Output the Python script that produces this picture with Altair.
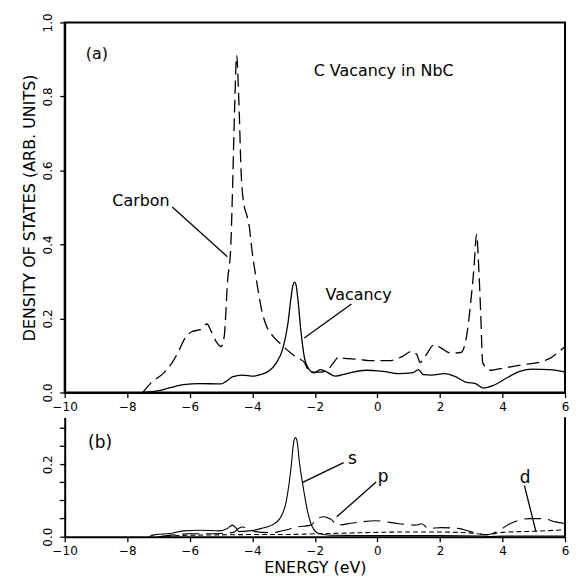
import altair as alt
import pandas as pd

FONT = "DejaVu Sans"

# ---- Panel (a): C vacancy in NbC ----
carbon_x = [-7.5, -7.24, -6.83, -6.57, -6.36, -6.15, -5.94, -5.63, -5.45, -5.31, -5.16, -5.0, -4.9,
            -4.79, -4.69, -4.64, -4.56, -4.5, -4.43, -4.35, -4.25, -4.18, -4.1, -4.01, -3.85, -3.70,
            -3.54, -3.33, -3.07, -2.76, -2.55, -2.34, -2.18, -2.0, -1.8, -1.6, -1.45, -1.3, -1.24,
            -1.09, -0.67, -0.15, 0.37, 0.79, 1.10, 1.26, 1.37, 1.52, 1.83, 2.04, 2.36, 2.67, 2.83,
            2.98, 3.09, 3.17, 3.24, 3.30, 3.37, 3.61, 4.03, 4.65, 5.28, 5.59, 5.90, 6.0]
carbon_y = [0.0, 0.026, 0.053, 0.080, 0.111, 0.147, 0.164, 0.171, 0.185, 0.164, 0.138, 0.124, 0.151,
            0.303, 0.392, 0.526, 0.786, 0.911, 0.786, 0.58, 0.50, 0.48, 0.45, 0.383, 0.294, 0.222,
            0.178, 0.151, 0.129, 0.106, 0.093, 0.082, 0.057, 0.055, 0.055, 0.060, 0.075, 0.092, 0.097,
            0.093, 0.090, 0.086, 0.086, 0.097, 0.111, 0.102, 0.081, 0.097, 0.129, 0.120, 0.106, 0.108, 0.142,
            0.240, 0.339, 0.428, 0.339, 0.222, 0.080, 0.060, 0.066, 0.075, 0.084, 0.096, 0.117, 0.124]

vac_x = [-7.5, -7.04, -6.62, -6.20, -5.68, -5.0, -4.84, -4.64, -4.32, -3.96, -3.80, -3.49, -3.23,
         -3.02, -2.86, -2.76, -2.70, -2.65, -2.60, -2.55, -2.45, -2.34, -2.18, -2.03, -1.82, -1.61,
         -1.35, -0.98, -0.36, 0.17, 0.69, 1.10, 1.16, 1.31, 1.47, 1.73, 2.15, 2.46, 2.83, 3.14, 3.38,
         3.71, 4.13, 4.55, 4.96, 5.49, 5.90, 6.0]
vac_y = [0.0, 0.004, 0.013, 0.021, 0.024, 0.023, 0.030, 0.042, 0.047, 0.044, 0.047, 0.057, 0.080,
         0.120, 0.187, 0.258, 0.290, 0.298, 0.290, 0.258, 0.169, 0.097, 0.062, 0.053, 0.062, 0.055,
         0.044, 0.051, 0.060, 0.057, 0.051, 0.053, 0.054, 0.062, 0.048, 0.047, 0.051, 0.044, 0.028,
         0.024, 0.012, 0.019, 0.039, 0.057, 0.063, 0.062, 0.057, 0.055]

# ---- Panel (b): s, p, d projected DOS ----
s_x = [-7.3, -7.14, -6.62, -6.20, -5.68, -5.05, -4.79, -4.64, -4.51, -4.43, -4.11, -3.70, -3.38,
       -3.12, -2.91, -2.76, -2.68, -2.62, -2.56, -2.50, -2.39, -2.24, -2.08, -1.87, -1.5, 0.0, 2.0,
       3.4, 3.5, 4.0, 6.0]
s_y = [0.0, 0.005, 0.009, 0.016, 0.018, 0.016, 0.023, 0.032, 0.023, 0.014, 0.016, 0.023, 0.032,
       0.050, 0.100, 0.192, 0.260, 0.274, 0.260, 0.210, 0.146, 0.073, 0.027, 0.009, 0.004, 0.003,
       0.003, 0.002, 0.0, 0.002, 0.002]

p_x = [-7.0, -6.5, -6.0, -5.5, -5.0, -4.6, -4.45, -4.32, -4.1, -3.90, -3.38, -2.96, -2.55, -2.13,
       -1.92, -1.70, -1.61, -1.45, -1.30, -0.77, -0.06, 0.69, 1.21, 1.42, 1.63, 2.05, 2.57, 2.98,
       3.24, 3.50, 3.82, 4.24, 4.86, 5.28, 5.70, 6.0]
p_y = [0.0, 0.005, 0.008, 0.008, 0.009, 0.012, 0.022, 0.027, 0.020, 0.014, 0.011, 0.018, 0.027,
       0.032, 0.050, 0.055, 0.053, 0.046, 0.032, 0.038, 0.044, 0.036, 0.032, 0.036, 0.023, 0.025,
       0.023, 0.014, 0.009, 0.005, 0.014, 0.036, 0.050, 0.050, 0.041, 0.036]

d_x = [-7.0, -6.0, -5.0, -4.0, -3.0, -2.0, -1.0, 0.0, 1.0, 2.0, 3.0, 3.5, 4.0, 5.0, 6.0]
d_y = [0.0, 0.004, 0.005, 0.006, 0.006, 0.008, 0.010, 0.012, 0.013, 0.013, 0.010, 0.006, 0.012,
       0.015, 0.019]

# ---- Annotations ----
top_text = ["(a)", "C Vacancy in NbC", "Carbon", "Vacancy"]
top_text_x = [-8.97, 0.2, -7.56, -0.6]
top_text_y = [0.914, 0.868, 0.517, 0.263]
top_lead_x1 = [-6.56, -0.83]
top_lead_y1 = [0.501, 0.239]
top_lead_x2 = [-4.80, -2.34]
top_lead_y2 = [0.367, 0.147]

bot_text = ["(b)", "s", "p", "d"]
bot_text_x = [-8.87, -0.8, 0.18, 4.72]
bot_text_y = [0.258, 0.214, 0.164, 0.162]
bot_lead_x1 = [-1.08, -0.04, 4.70]
bot_lead_y1 = [0.205, 0.151, 0.142]
bot_lead_x2 = [-2.39, -1.30, 5.07]
bot_lead_y2 = [0.150, 0.055, 0.014]

x_ticks = [v / 2 for v in range(-20, 13)]
y_ticks_top = [round(v * 0.05, 2) for v in range(0, 21)]
y_labels_bot = [0.0, 0.2]
y_minor_bot = [0.05, 0.1, 0.15, 0.25, 0.3]

W, H_TOP, H_BOT = 503, 372, 120
X_LABEL = "datum.value % 2 == 0 ? (datum.value < 0 ? '\u2212' + abs(datum.value) : '' + datum.value) : ''"
Y_LABEL = "abs(datum.value * 5 - round(datum.value * 5)) < 0.001 ? format(datum.value, '.1f') : ''"


def xenc(title=None):
    return alt.X("x:Q", scale=alt.Scale(domain=[-10, 6], nice=False, zero=False),
                 axis=alt.Axis(values=x_ticks, labelExpr=X_LABEL, title=title,
                               labelOverlap=False, labelFlush=False))


def yaxis(ticks, title=None, expr=None):
    kw = dict(values=ticks, title=title, labelAngle=270, labelAlign="center",
              labelBaseline="bottom", labelOverlap=False, labelFlush=False)
    if expr:
        kw["labelExpr"] = expr
    else:
        kw["format"] = ".1f"
    return alt.Axis(**kw)


def curve(xs, ys, dash, width=1.3):
    df = pd.DataFrame({"x": xs, "y": ys})
    kw = dict(color="black", strokeWidth=width, interpolate="monotone")
    if dash:
        kw["strokeDash"] = dash
    return alt.Chart(df).mark_line(**kw)


top_dom = [0, 1]
bot_dom = [0, 0.33]

carbon = curve(carbon_x, carbon_y, [13, 6]).encode(
    x=xenc(),
    y=alt.Y("y:Q", scale=alt.Scale(domain=top_dom, nice=False, zero=False),
            axis=yaxis(y_ticks_top, "DENSITY OF STATES (ARB. UNITS)", Y_LABEL)))
vac = curve(vac_x, vac_y, None).encode(x="x:Q", y="y:Q")
tl = alt.Chart(pd.DataFrame({"x": top_lead_x1, "y": top_lead_y1, "x2": top_lead_x2, "y2": top_lead_y2})
               ).mark_rule(color="black", strokeWidth=1.3).encode(x="x:Q", y="y:Q", x2="x2:Q", y2="y2:Q")
tt = alt.Chart(pd.DataFrame({"x": top_text_x, "y": top_text_y, "t": top_text})).mark_text(
    font=FONT, fontSize=16, color="black", align="center", baseline="middle").encode(
    x="x:Q", y="y:Q", text="t:N")

top = alt.layer(carbon, vac, tl, tt).properties(
    width=W, height=H_TOP, view=alt.ViewBackground(stroke="black", strokeWidth=2))

s_line = curve(s_x, s_y, None, 1.1).encode(
    x=xenc("ENERGY (eV)"),
    y=alt.Y("y:Q", scale=alt.Scale(domain=bot_dom, nice=False, zero=False),
            axis=yaxis(y_labels_bot)))
p_line = curve(p_x, p_y, [17, 7], 1.1).encode(x="x:Q", y="y:Q")
d_line = curve(d_x, d_y, [5, 3], 1.1).encode(x="x:Q", y="y:Q")
minor = alt.Chart(pd.DataFrame({"y": y_minor_bot})).mark_rule(color="black", strokeWidth=1.3).encode(
    y="y:Q", x=alt.value(-5), x2=alt.value(0))
bl = alt.Chart(pd.DataFrame({"x": bot_lead_x1, "y": bot_lead_y1, "x2": bot_lead_x2, "y2": bot_lead_y2})
               ).mark_rule(color="black", strokeWidth=1.3).encode(x="x:Q", y="y:Q", x2="x2:Q", y2="y2:Q")
bt = alt.Chart(pd.DataFrame({"x": bot_text_x, "y": bot_text_y, "t": bot_text})).mark_text(
    font=FONT, fontSize=17, color="black", align="center", baseline="middle").encode(
    x="x:Q", y="y:Q", text="t:N")
right_border = alt.Chart(pd.DataFrame({"x": [6]})).mark_rule(color="black", strokeWidth=2).encode(
    x=alt.value(W), y=alt.value(0), y2=alt.value(H_BOT))

bottom = alt.layer(s_line, p_line, d_line, minor, bl, bt, right_border).properties(
    width=W, height=H_BOT, view=alt.ViewBackground(stroke=None))

chart = alt.vconcat(top, bottom, spacing=3).properties(
    padding={"left": 13, "top": 2, "right": 0, "bottom": 0}
).configure_axis(
    domainColor="black", domainWidth=2, tickColor="black", tickWidth=1.3,
    labelFont=FONT, labelFontSize=12, labelColor="black",
    titleFont=FONT, titleFontSize=16, titleFontWeight="normal", titleColor="black",
    grid=False
).configure_axisY(titlePadding=4, tickSize=5, labelPadding=5
).configure_axisX(titlePadding=3, tickSize=5, labelPadding=4)

chart.save("out.html", embed_options={"renderer": "svg", "actions": False})
